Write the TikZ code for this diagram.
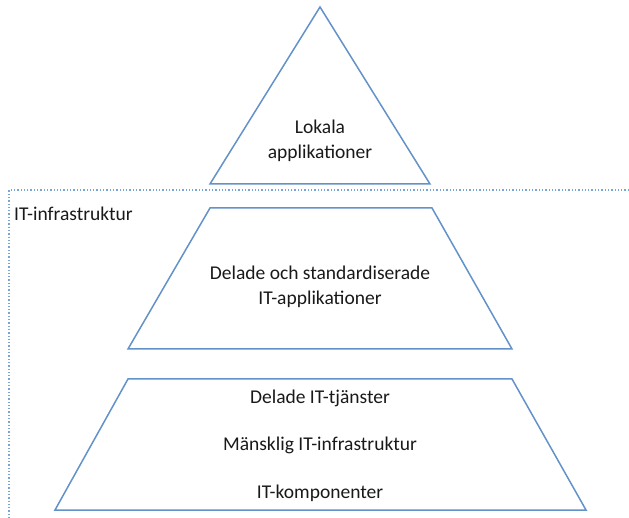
\documentclass[tikz,border=0pt]{standalone}
\usepackage{fontspec}
\setmainfont{Carlito}
\usetikzlibrary{positioning}
\definecolor{pyrblue}{RGB}{98,146,200}
\definecolor{prickblue}{RGB}{120,165,215}

\begin{document}
\begin{tikzpicture}[x=1pt, y=-1pt, node distance=20pt]
	\tikzstyle{lager} = [draw=pyrblue, line width=1.5pt, line join=miter]
	\tikzstyle{etikett} = [align=center, inner sep=0pt, text=black!90, font=\fontsize{19.5}{25}\selectfont]
	
	\useasboundingbox (0,0) rectangle (629,518);
	
	% lokala applikationer
	\draw[lager] (320,7) -- (430,184) -- (210,184) -- cycle;
	\node[etikett] (lokala) at (320,141) {Lokala\\applikationer};
	
	% IT-infrastruktur
	\draw[prickblue, dotted, line width=1.3pt] (629,190) -- (9,190) -- (9,518);
	\node[etikett, anchor=west] (infra) at (14,214) {IT-infrastruktur};
	
	\draw[lager] (210,208) -- (432,208) -- (512,349) -- (128,349) -- cycle;
	\node[etikett] (delade) at (320,287) {Delade och standardiserade\\IT-applikationer};
	
	\draw[lager] (128,379) -- (512,379) -- (586,510) -- (55,510) -- cycle;
	\node[etikett] (tjanster) at (320,398) {Delade IT-tjänster};
	\node[etikett] (mansklig) at (320,445) {Mänsklig IT-infrastruktur};
	\node[etikett] (komponenter) at (320,493) {IT-komponenter};
\end{tikzpicture}
\end{document}
